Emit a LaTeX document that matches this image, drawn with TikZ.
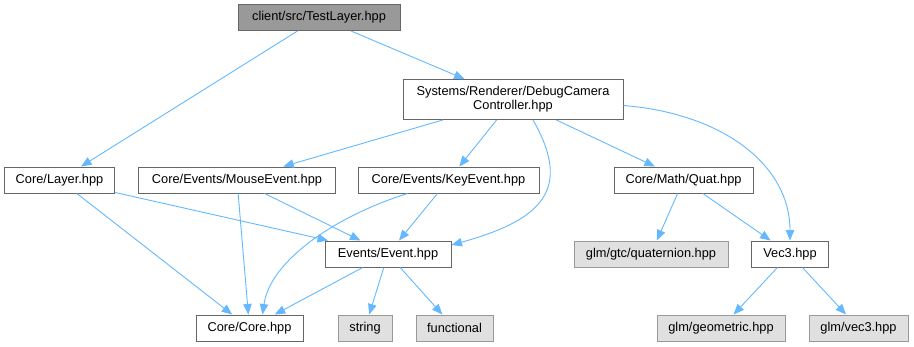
\documentclass[tikz,border=0pt]{standalone}
\usepackage{fontspec}
\setmainfont{Liberation Sans}
\usetikzlibrary{arrows.meta}
\definecolor{edgeblue}{HTML}{63B8FF}
\definecolor{boxline}{HTML}{666666}
\definecolor{sysline}{HTML}{999999}
\definecolor{sysfill}{HTML}{E0E0E0}
\definecolor{rootfill}{HTML}{999999}

\begin{document}
\begin{tikzpicture}[x=1pt,y=-1pt,
  hdr/.style={draw=boxline,fill=white,line width=1pt,inner xsep=3pt,inner ysep=7pt,
    minimum height=26pt,align=center,font=\fontsize{12.8}{14}\selectfont},
  syshdr/.style={hdr,draw=sysline,fill=sysfill},
  mainhdr/.style={hdr,fill=rootfill},
  dep/.style={draw=edgeblue,line width=0.9pt,-{Triangle[length=10.5pt,width=8.5pt]}}]
  \useasboundingbox (0,0) rectangle (914,346);
  \node[mainhdr,minimum width=162pt] (testlayer) at (319,17.5) {client/src/TestLayer.hpp};
  \node[hdr,minimum width=220pt] (dbgcam) at (513,99.5) {Systems/Renderer/DebugCamera\\Controller.hpp};
  \node[hdr,minimum width=110pt] (layer) at (59.5,180) {Core/Layer.hpp};
  \node[hdr,minimum width=197pt] (mouseev) at (237,180) {Core/Events/MouseEvent.hpp};
  \node[hdr,minimum width=181pt] (keyev) at (448.5,180) {Core/Events/KeyEvent.hpp};
  \node[hdr,minimum width=139pt] (quat) at (683.5,180) {Core/Math/Quat.hpp};
  \node[hdr,minimum width=126pt] (event) at (388,254) {Events/Event.hpp};
  \node[syshdr,minimum width=154pt] (quaternion) at (651,254) {glm/gtc/quaternion.hpp};
  \node[hdr,minimum width=77pt] (vecthree) at (790,254) {Vec3.hpp};
  \node[hdr,minimum width=107pt] (core) at (249.5,328) {Core/Core.hpp};
  \node[syshdr,minimum width=54pt] (string) at (365,328) {string};
  \node[syshdr,minimum width=77pt] (functional) at (454.5,328) {functional};
  \node[syshdr,minimum width=128pt] (geometric) at (721,328) {glm/geometric.hpp};
  \node[syshdr,minimum width=99pt] (glmvec) at (858.5,328) {glm/vec3.hpp};

  \draw[dep] (testlayer) -- (layer);
  \draw[dep] (testlayer) -- (dbgcam);
  \draw[dep] (dbgcam) -- (mouseev);
  \draw[dep] (dbgcam) -- (keyev);
  \draw[dep] ([xshift=20pt]dbgcam.south) .. controls +(40,70) and +(90,-25) .. ([yshift=9pt]event.east);
  \draw[dep] (dbgcam) -- (quat);
  \draw[dep] ([yshift=-6pt]dbgcam.east) .. controls +(100,8) and +(0,-75) .. (vecthree.north);
  \draw[dep] (layer) -- (core);
  \draw[dep] (layer) -- (event);
  \draw[dep] (mouseev) -- (core);
  \draw[dep] (mouseev) -- (event);
  \draw[dep] ([xshift=-41pt]keyev.south) .. controls +(-70,22) and +(8,-55) .. ([xshift=13pt]core.north);
  \draw[dep] (keyev) -- (event);
  \draw[dep] (event) -- (core);
  \draw[dep] (event) -- (string);
  \draw[dep] (event) -- (functional);
  \draw[dep] (quat) -- (quaternion);
  \draw[dep] (quat) -- (vecthree);
  \draw[dep] (vecthree) -- (geometric);
  \draw[dep] (vecthree) -- (glmvec);
\end{tikzpicture}
\end{document}
